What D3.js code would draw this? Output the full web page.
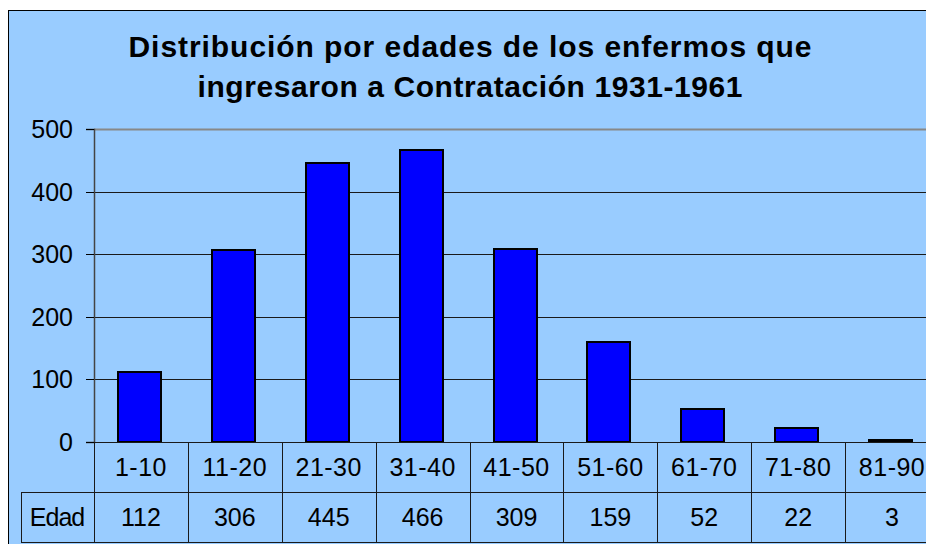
<!DOCTYPE html>
<html>
<head>
<meta charset="utf-8">
<script src="https://cdn.jsdelivr.net/npm/d3@7"></script>
<style>
  body { margin: 0; background: #fff; }
  text { font-family: "Liberation Sans", Arial, sans-serif; fill: #000; }
</style>
</head>
<body>
<div id="chart"></div>
<script>
// Data
const categories = ["1-10", "11-20", "21-30", "31-40", "41-50", "51-60", "61-70", "71-80", "81-90"];
const values = [112, 306, 445, 466, 309, 159, 52, 22, 3];
const yTicks = [0, 100, 200, 300, 400, 500];
const titleLines = ["Distribución por edades de los enfermos que", "ingresaron a Contratación 1931-1961"];
const seriesName = "Edad";

const width = 926, height = 544;
const plot = {left: 94, right: 939, top: 129, bottom: 442};
const rowH = 50;

const svg = d3.select("#chart")
    .append("svg")
    .attr("width", width)
    .attr("height", height);

// Chart background and border
svg.append("rect")
    .attr("x", 8.5)
    .attr("y", 10.5)
    .attr("width", 960)
    .attr("height", 600)
    .attr("fill", "#99CCFF")
    .attr("stroke", "#000")
    .attr("stroke-width", 1);

// Scales
const xScale = d3.scaleBand()
    .domain(categories)
    .range([plot.left, plot.right]);

const yScale = d3.scaleLinear()
    .domain([0, 500])
    .range([plot.bottom, plot.top]);

// Title (stretched a bit to match the original's loose spacing)
const titleWidths = [683, 545];
svg.selectAll(".title")
    .data(titleLines)
    .enter().append("text")
    .attr("class", "title")
    .attr("x", 470)
    .attr("y", (d, i) => 57 + i * 40)
    .attr("text-anchor", "middle")
    .attr("textLength", (d, i) => titleWidths[i])
    .attr("lengthAdjust", "spacing")
    .style("font-size", "30px")
    .style("font-weight", "bold")
    .text(d => d);

// Gridlines (snapped to whole pixels so they stay crisp)
svg.selectAll(".grid")
    .data(yTicks.filter(t => t > 0))
    .enter().append("line")
    .attr("x1", plot.left)
    .attr("x2", plot.right)
    .attr("y1", d => Math.round(yScale(d)) + 0.5)
    .attr("y2", d => Math.round(yScale(d)) + 0.5)
    .attr("stroke", d => d === 500 ? "#888" : "#1a1a1a")
    .attr("stroke-width", d => d === 500 ? 2 : 1);

// Y axis
const yAxis = svg.append("g")
    .attr("transform", `translate(${plot.left},0)`)
    .call(d3.axisLeft(yScale).tickValues(yTicks).tickSize(8).tickPadding(13));
yAxis.select(".domain").attr("stroke", "#444").attr("stroke-width", 1.5);
yAxis.selectAll(".tick")
    .attr("transform", d => `translate(0,${Math.round(yScale(d)) + 0.5})`);
yAxis.selectAll(".tick line").attr("stroke", "#000");
yAxis.selectAll(".tick text")
    .style("font-size", "25px")
    .attr("font-family", null)
    .attr("dy", "0.35em");

// Bars
const barW = Math.round(xScale.bandwidth() * 0.46);
svg.selectAll(".bar")
    .data(values)
    .enter().append("rect")
    .attr("class", "bar")
    .attr("x", (d, i) => Math.round(xScale(categories[i]) + (xScale.bandwidth() - barW) / 2 - 1.5))
    .attr("y", d => Math.round(yScale(d)))
    .attr("width", barW)
    .attr("height", d => Math.round(yScale(0)) - Math.round(yScale(d)))
    .attr("fill", "#0000FF")
    .attr("stroke", "#000")
    .attr("stroke-width", 2);

// Data table
const table = svg.append("g");
const lineColor = "#1a1a1a";

// horizontal lines
table.append("line")
    .attr("x1", plot.left).attr("x2", plot.right)
    .attr("y1", plot.bottom + 0.5).attr("y2", plot.bottom + 0.5)
    .attr("stroke", lineColor);
[plot.bottom + rowH, plot.bottom + 2 * rowH].forEach(y => {
    table.append("line")
        .attr("x1", 21).attr("x2", plot.right)
        .attr("y1", y + 0.5).attr("y2", y + 0.5)
        .attr("stroke", lineColor);
});

// vertical lines
table.selectAll(".vline")
    .data(categories)
    .enter().append("line")
    .attr("x1", d => Math.round(xScale(d)) + 0.5)
    .attr("x2", d => Math.round(xScale(d)) + 0.5)
    .attr("y1", plot.bottom)
    .attr("y2", plot.bottom + 2 * rowH)
    .attr("stroke", lineColor);
table.append("line")
    .attr("x1", 21.5).attr("x2", 21.5)
    .attr("y1", plot.bottom + rowH).attr("y2", plot.bottom + 2 * rowH)
    .attr("stroke", lineColor);

// category labels
table.selectAll(".cat")
    .data(categories)
    .enter().append("text")
    .attr("x", d => xScale(d) + xScale.bandwidth() / 2)
    .attr("y", plot.bottom + rowH / 2)
    .attr("dy", "0.35em")
    .attr("text-anchor", "middle")
    .style("font-size", "25px")
    .style("letter-spacing", "0.5px")
    .text(d => d);

// values row
table.selectAll(".val")
    .data(values)
    .enter().append("text")
    .attr("x", (d, i) => xScale(categories[i]) + xScale.bandwidth() / 2)
    .attr("y", plot.bottom + rowH * 1.5)
    .attr("dy", "0.35em")
    .attr("text-anchor", "middle")
    .style("font-size", "25px")
    .text(d => d);

table.append("text")
    .attr("x", 57)
    .attr("y", plot.bottom + rowH * 1.5)
    .attr("dy", "0.35em")
    .attr("text-anchor", "middle")
    .style("font-size", "25px")
    .style("letter-spacing", "-1px")
    .text(seriesName);
</script>
</body>
</html>
